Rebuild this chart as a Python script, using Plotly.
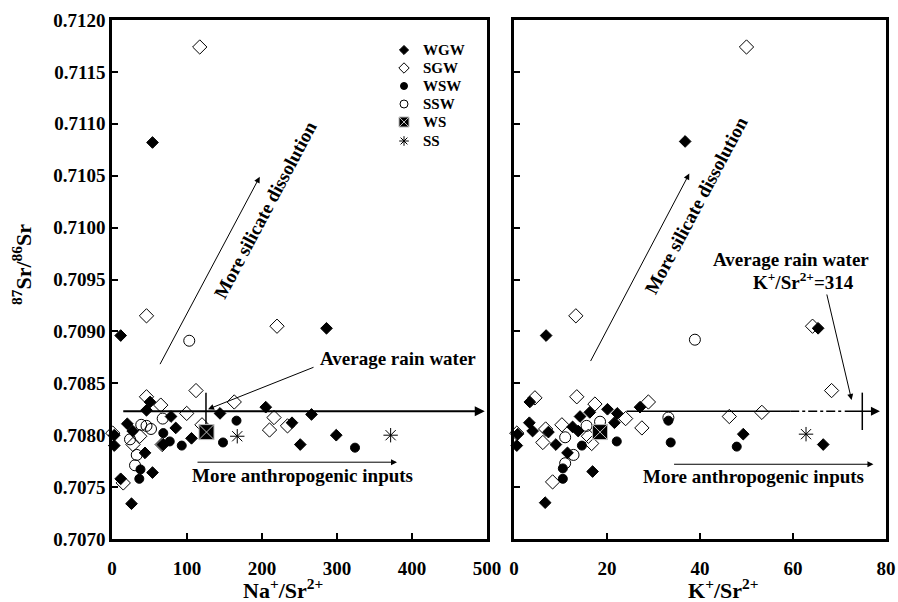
import plotly.graph_objects as go

FONT = "Liberation Serif"

# ---------------- Left panel: Na+/Sr2+ vs 87Sr/86Sr ----------------
wgw_na = [11.6, 286, 54, 46, 50.7, 20.4, 27.6, 3, 3, 44, 54, 11.6, 26, 78.7, 85, 106, 144, 205, 240, 266, 251, 299, 67.6]
wgw_na_sr = [0.70896, 0.70903, 0.71082, 0.70824, 0.70832, 0.70811, 0.70804, 0.70800, 0.70790, 0.70783, 0.70764, 0.70758, 0.70734, 0.70818, 0.70807, 0.70797, 0.70821, 0.70827, 0.70812, 0.70820, 0.70791, 0.70800, 0.70791]

sgw_na = [117, 46, 220, 46, 65, 112, 99.6, 163, 216, 210, 234, 1, 15, 28, 37, 120, 67]
sgw_na_sr = [0.71174, 0.70915, 0.70905, 0.70837, 0.70829, 0.70843, 0.70821, 0.70832, 0.70817, 0.70805, 0.70809, 0.70802, 0.70754, 0.70791, 0.70799, 0.70810, 0.70791]

wsw_na = [68.4, 77, 93, 38, 36.4, 148, 166, 324]
wsw_na_sr = [0.70802, 0.70794, 0.70790, 0.70767, 0.70758, 0.70793, 0.70814, 0.70788]

ssw_na = [103, 46, 52, 67.6, 24, 33, 30.7, 39]
ssw_na_sr = [0.70891, 0.70809, 0.70806, 0.70816, 0.70796, 0.70781, 0.70771, 0.70810]

ws_na = [126]
ws_na_sr = [0.70803]

ss_na = [167, 371.5]
ss_na_sr = [0.70799, 0.70800]

# rain water (left)
rain_sr = 0.70823
rain_na = 125.3
rain_vert_y = [0.70841, 0.70805]

# ---------------- Right panel: K+/Sr2+ vs 87Sr/86Sr ----------------
wgw_k = [36.8, 6.9, 65.4, 3.4, 3.3, 4.0, 0.8, 0.6, 7.4, 9.0, 11.5, 6.7, 16.9, 12.6, 14.2, 13.8, 16.3, 20.1, 22.2, 21.6, 27.1, 49.3, 66.5]
wgw_k_sr = [0.71083, 0.70896, 0.70903, 0.70832, 0.70812, 0.70804, 0.70801, 0.70790, 0.70803, 0.70791, 0.70783, 0.70735, 0.70765, 0.70808, 0.70818, 0.70804, 0.70822, 0.70825, 0.70821, 0.70812, 0.70827, 0.70801, 0.70791]

sgw_k = [50, 13.3, 64.2, 68.3, 4.5, 13.5, 17.4, 28.9, 24, 27.5, 46.3, 53.3, 0.6, 6.2, 6.8, 10.3, 8.3, 16.7, 16]
sgw_k_sr = [0.71174, 0.70915, 0.70905, 0.70843, 0.70836, 0.70837, 0.70830, 0.70832, 0.70816, 0.70807, 0.70818, 0.70822, 0.70802, 0.70793, 0.70806, 0.70810, 0.70755, 0.70792, 0.70799]

wsw_k = [33.2, 33.7, 47.9, 22.1, 14.6, 10.5, 10.5]
wsw_k_sr = [0.70814, 0.70793, 0.70789, 0.70794, 0.70790, 0.70768, 0.70758]

ssw_k = [38.9, 33.2, 18.5, 11, 12.8, 11, 15.6]
ssw_k_sr = [0.70892, 0.70817, 0.70813, 0.70798, 0.70781, 0.70773, 0.70809]

ws_k = [18.5]
ws_k_sr = [0.70803]

ss_k = [62.8]
ss_k_sr = [0.70801]

rain_k_solid1 = [24.2, 59.4]
rain_k_dash = [59.4, 70.8]
rain_k_solid2 = [70.8, 78.7]
rain_k = 74.9

series_names = ["WGW", "SGW", "WSW", "SSW", "WS", "SS"]

styles = {
    "WGW": dict(symbol="diamond", size=9, color="black", line=dict(color="black", width=1)),
    "SGW": dict(symbol="diamond-open", size=11, color="black", line=dict(color="black", width=1)),
    "WSW": dict(symbol="circle", size=9, color="black", line=dict(color="black", width=1)),
    "SSW": dict(symbol="circle-open", size=11, color="black", line=dict(color="black", width=1)),
    "WS": dict(symbol="square-x", size=15, color="black", line=dict(color="#bbbbbb", width=1)),
    "SS": dict(symbol="asterisk-open", size=12, color="black", line=dict(color="black", width=1)),
}
legend_sizes = {"WGW": 7, "SGW": 8, "WSW": 7, "SSW": 8, "WS": 10, "SS": 8}

left_data = {
    "WGW": (wgw_na, wgw_na_sr), "SGW": (sgw_na, sgw_na_sr), "WSW": (wsw_na, wsw_na_sr),
    "SSW": (ssw_na, ssw_na_sr), "WS": (ws_na, ws_na_sr), "SS": (ss_na, ss_na_sr),
}
right_data = {
    "WGW": (wgw_k, wgw_k_sr), "SGW": (sgw_k, sgw_k_sr), "WSW": (wsw_k, wsw_k_sr),
    "SSW": (ssw_k, ssw_k_sr), "WS": (ws_k, ws_k_sr), "SS": (ss_k, ss_k_sr),
}

fig = go.Figure()

# rain water lines (drawn first, under markers)
fig.add_trace(go.Scatter(x=[rain_na, rain_na], y=rain_vert_y, mode="lines",
                         line=dict(color="black", width=1.5), showlegend=False,
                         xaxis="x", yaxis="y", hoverinfo="skip"))
fig.add_trace(go.Scatter(x=rain_k_solid1, y=[rain_sr, rain_sr], mode="lines",
                         line=dict(color="black", width=1.5), showlegend=False,
                         xaxis="x2", yaxis="y2", hoverinfo="skip"))
fig.add_trace(go.Scatter(x=rain_k_dash, y=[rain_sr, rain_sr], mode="lines",
                         line=dict(color="black", width=1.5, dash="dashdot"), showlegend=False,
                         xaxis="x2", yaxis="y2", hoverinfo="skip"))
fig.add_trace(go.Scatter(x=[rain_k, rain_k], y=rain_vert_y, mode="lines",
                         line=dict(color="black", width=1.5), showlegend=False,
                         xaxis="x2", yaxis="y2", hoverinfo="skip"))

for name in series_names:
    x, y = left_data[name]
    fig.add_trace(go.Scatter(x=x, y=y, mode="markers", name=name, marker=styles[name],
                             xaxis="x", yaxis="y", cliponaxis=False, showlegend=False))
for name in series_names:
    x, y = right_data[name]
    fig.add_trace(go.Scatter(x=x, y=y, mode="markers", name=name, marker=styles[name],
                             xaxis="x2", yaxis="y2", cliponaxis=False, showlegend=False))

# manual legend on an invisible overlay axis (pixel-like units)
legend_rows = [50, 68, 86, 104, 122, 141]
legend_marker_x = 404
legend_text_x = 421
for name, row in zip(series_names, legend_rows):
    st = dict(styles[name])
    st["size"] = legend_sizes[name]
    fig.add_trace(go.Scatter(x=[legend_marker_x], y=[row], mode="markers", marker=st,
                             xaxis="x3", yaxis="y3", showlegend=False, hoverinfo="skip",
                             cliponaxis=False))

tickfont = dict(family=FONT, size=19, color="black", weight="bold")
axis_common = dict(showline=True, linecolor="black", linewidth=2.5, mirror=True,
                   ticks="inside", ticklen=6, tickwidth=2, tickcolor="black",
                   showgrid=False, zeroline=False, tickfont=tickfont, automargin=False)

fig.update_layout(
    width=898, height=602,
    margin=dict(l=112, r=12, t=20, b=63),
    paper_bgcolor="white", plot_bgcolor="white",
    font=dict(family=FONT, color="black"),
    xaxis=dict(domain=[0, 0.4845], range=[0, 500], tickvals=[0, 100, 200, 300, 400, 500],
               anchor="y", ticklabelstandoff=10, **axis_common),
    yaxis=dict(domain=[0, 1], range=[0.7070, 0.7120], tickvals=[0.7070 + 0.0005 * i for i in range(11)],
               tickformat=".4f", anchor="x", **axis_common),
    xaxis2=dict(domain=[0.5194, 1], range=[0, 80], tickvals=[0, 20, 40, 60, 80],
                anchor="y2", ticklabelstandoff=10, **axis_common),
    yaxis2=dict(domain=[0, 1], range=[0.7070, 0.7120], tickvals=[0.7070 + 0.0005 * i for i in range(11)],
                showticklabels=False, anchor="x2", **axis_common),
    xaxis3=dict(domain=[0, 0.4845], range=[112, 487], visible=False, overlaying="x",
                anchor="y3", automargin=False),
    yaxis3=dict(domain=[0, 1], range=[539, 20], visible=False, overlaying="y",
                anchor="x3", automargin=False),
    showlegend=False,
)

afont = dict(family=FONT, size=19, color="black", weight="bold")
ann = []

def arrow(xr, yr, tail, head, width=1, size=1.2):
    return dict(xref=xr, yref=yr, axref=xr, ayref=yr, x=head[0], y=head[1], ax=tail[0], ay=tail[1],
                text="", showarrow=True, arrowhead=2, arrowsize=size, arrowwidth=width, arrowcolor="black")

# Left panel arrows
ann.append(arrow("x", "y", (63, 0.70867), (197, 0.71049)))
ann.append(arrow("x", "y", (13, rain_sr), (497, rain_sr), width=2, size=1))
ann.append(arrow("x", "y", (270.7, 0.70866), (128, 0.70825)))
ann.append(arrow("x", "y", (112, 0.70774), (380, 0.70774)))
# Right panel arrows
ann.append(arrow("x2", "y2", (16.3, 0.70870), (37.7, 0.71052)))
ann.append(arrow("x2", "y2", (rain_k_solid2[0], rain_sr), (rain_k_solid2[1], rain_sr), width=1.5))
ann.append(arrow("x2", "y2", (67.2, 0.70937), (72.6, 0.70834)))
ann.append(arrow("x2", "y2", (34.1, 0.70772), (77.3, 0.70772)))

# texts
ann.append(dict(xref="x", yref="y", x=205, y=0.71017, text="More silicate dissolution", textangle=-62,
                showarrow=False, font=afont))
ann.append(dict(xref="x", yref="y", x=275, y=0.70874, text="Average rain water", xanchor="left",
                showarrow=False, font=afont))
ann.append(dict(xref="x", yref="y", x=254, y=0.70761, text="More anthropogenic inputs",
                showarrow=False, font=afont))
ann.append(dict(xref="x2", yref="y2", x=39.2, y=0.71021, text="More silicate dissolution", textangle=-62,
                showarrow=False, font=afont))
ann.append(dict(xref="x2", yref="y2", x=59.6, y=0.70969, text="Average rain water",
                showarrow=False, font=afont))
ann.append(dict(xref="x2", yref="y2", x=62.2, y=0.70949, text="K<sup>+</sup>/Sr<sup>2+</sup>=314",
                showarrow=False, font=afont))
ann.append(dict(xref="x2", yref="y2", x=51.6, y=0.70760, text="More anthropogenic inputs",
                showarrow=False, font=afont))

# legend texts
lfont = dict(family=FONT, size=15, color="black", weight="bold")
for name, row in zip(series_names, legend_rows):
    ann.append(dict(xref="x3", yref="y3", x=legend_text_x, y=row, text=name, xanchor="left",
                    yanchor="middle", showarrow=False, font=lfont))

# axis titles
tfont = dict(family=FONT, size=22, color="black", weight="bold")
ann.append(dict(xref="x", yref="paper", x=228, y=-0.097, text="Na<sup>+</sup>/Sr<sup>2+</sup>",
                showarrow=False, font=tfont, yanchor="middle"))
ann.append(dict(xref="x2", yref="paper", x=45.1, y=-0.097, text="K<sup>+</sup>/Sr<sup>2+</sup>",
                showarrow=False, font=tfont, yanchor="middle"))
ann.append(dict(xref="paper", yref="paper", x=-0.1163, y=0.530, text="<sup>87</sup>Sr/<sup>86</sup>Sr",
                textangle=-90, showarrow=False, font=tfont, xanchor="center", yanchor="middle"))

fig.update_layout(annotations=ann)

fig.write_html("out.html", config={"displayModeBar": False},
               post_script="document.body.style.margin='0px';document.body.style.overflow='hidden';")
